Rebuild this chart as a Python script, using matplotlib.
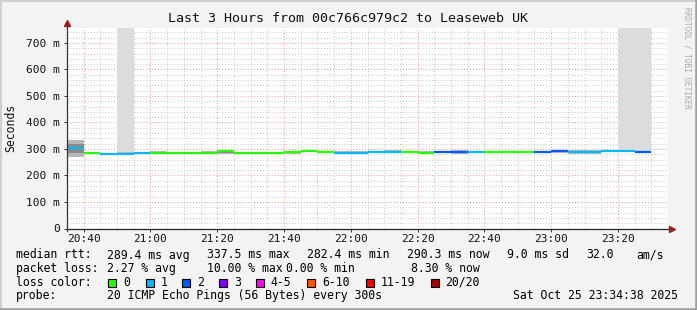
import numpy as np
import matplotlib
matplotlib.use('Agg')
import matplotlib.pyplot as plt
from matplotlib.patches import Rectangle
from matplotlib.lines import Line2D

plt.rcParams['font.family'] = 'DejaVu Sans Mono'

# 5 minute steps, minutes after 20:35
t_start = [0, 5, 10, 15, 20, 25, 30, 35, 40, 45, 50, 55, 60, 65, 70, 75, 80, 85,
           90, 95, 100, 105, 110, 115, 120, 125, 130, 135, 140, 145, 150, 155, 160, 165, 170]
median = [0.305, 0.285, 0.282, 0.282, 0.286, 0.286, 0.285, 0.285, 0.286, 0.291, 0.286, 0.286,
          0.286, 0.289, 0.292, 0.289, 0.286, 0.286, 0.290, 0.288, 0.290, 0.285, 0.289, 0.290,
          0.289, 0.289, 0.289, 0.289, 0.289, 0.291, 0.289, 0.289, 0.292, 0.292, 0.289]
loss_idx = [1, 0, 1, 1, 1, 0, 0, 0, 0, 0, 0, 0, 0, 0, 0, 0, 1, 1, 1, 1, 0, 0, 2, 2,
            1, 0, 0, 0, 2, 2, 1, 1, 1, 1, 2]
smoke_lo = [0.268, 0.283, 0.280, 0.280, 0.284, 0.284, 0.283, 0.283, 0.284, 0.280, 0.284, 0.284,
            0.284, 0.281, 0.287, 0.285, 0.284, 0.284, 0.286, 0.284, 0.286, 0.283, 0.284, 0.282,
            0.285, 0.284, 0.284, 0.284, 0.284, 0.285, 0.283, 0.283, 0.287, 0.287, 0.285]
smoke_hi = [0.335, 0.288, 0.286, 0.290, 0.288, 0.292, 0.290, 0.288, 0.293, 0.293, 0.289, 0.288,
            0.289, 0.291, 0.296, 0.292, 0.291, 0.292, 0.292, 0.295, 0.293, 0.292, 0.292, 0.295,
            0.294, 0.292, 0.292, 0.292, 0.293, 0.296, 0.295, 0.295, 0.295, 0.295, 0.293]
# intervals with lost pings drawn up to the top
lost_start = [15, 165, 170]

loss_colors = ['#26ff00', '#00b8ff', '#0059ff', '#7e00ff', '#ff00ff', '#ff5500', '#ff0000', '#a10000']
loss_labels = ['0', '1', '2', '3', '4-5', '6-10', '11-19', '20/20']

x_ticks = [5, 25, 45, 65, 85, 105, 125, 145, 165]
x_labels = ['20:40', '21:00', '21:20', '21:40', '22:00', '22:20', '22:40', '23:00', '23:20']
y_ticks = [0, 0.1, 0.2, 0.3, 0.4, 0.5, 0.6, 0.7]
y_labels = ['0', '100 m', '200 m', '300 m', '400 m', '500 m', '600 m', '700 m']
step = 5
ymax = 0.7566

W, H = 697, 310
fig = plt.figure(figsize=(W/100, H/100), dpi=100, facecolor='#f3f3f3')
ax = fig.add_axes([67/W, 1-228.5/H, 601/W, 200.5/H], facecolor='white')
ax.set_xlim(0, 180)
ax.set_ylim(0, ymax)

# grid
for xm in np.arange(0, 181, 5):
    if xm in x_ticks:
        continue
    ax.axvline(xm, color='#c8c8c8', lw=0.7, ls=(0, (1, 2)), zorder=1)
for ym in np.arange(0, ymax, 0.02):
    if np.isclose(ym % 0.1, 0) or np.isclose(ym % 0.1, 0.1):
        continue
    ax.axhline(ym, color='#c8c8c8', lw=0.7, ls=(0, (1, 2)), zorder=1)
for xm in x_ticks:
    ax.axvline(xm, color='#f09a9a', lw=0.7, ls=(0, (1, 2)), zorder=1)
for ym in y_ticks[1:]:
    ax.axhline(ym, color='#f09a9a', lw=0.7, ls=(0, (1, 2)), zorder=1)

# lost pings
for s in lost_start:
    i = t_start.index(s)
    ax.fill_between([s, s+step], smoke_hi[i], ymax, color='#dcdcdc', lw=0, zorder=2)

# smoke
for i in range(len(t_start)):
    ax.fill_between([t_start[i], t_start[i]+step], smoke_lo[i], smoke_hi[i], color='#b8b8b8', lw=0, zorder=3)
    mid_lo = (smoke_lo[i] + median[i]) / 2
    mid_hi = (smoke_hi[i] + median[i]) / 2
    ax.fill_between([t_start[i], t_start[i]+step], mid_lo, mid_hi, color='#8a8a8a', lw=0, zorder=3)

# median coloured by loss
for i in range(len(t_start)):
    ax.hlines(median[i], t_start[i], t_start[i]+step, color=loss_colors[loss_idx[i]], lw=1.6, zorder=4)

for sp in ax.spines.values():
    sp.set_visible(False)
ax.set_xticks(x_ticks, x_labels)
ax.set_yticks(y_ticks, y_labels)
ax.tick_params(axis='both', length=2, width=0.7, color='#333333', labelsize=8, labelcolor='#111111')
ax.tick_params(axis='y', pad=3)
ax.tick_params(axis='x', pad=2)

# axes with arrows
ax.plot([0, 0], [-0.012, 1.02], transform=ax.transAxes, clip_on=False, color='#333333', lw=0.9, zorder=5)
ax.plot([0, 1.004], [0, 0], transform=ax.transAxes, clip_on=False, color='#222222', lw=0.9, zorder=5)
ax.plot(0, 1.025, marker='^', ms=4, color='#9b1c1c', transform=ax.transAxes, clip_on=False, zorder=6)
ax.plot(1.006, 0, marker='>', ms=4, color='#9b1c1c', transform=ax.transAxes, clip_on=False, zorder=6)

def ftext(x, y, s, **kw):
    fig.text(x/W, 1-y/H, s, va='center', **kw)

ftext(348.5, 19, 'Last 3 Hours from 00c766c979c2 to Leaseweb UK', ha='center', fontsize=9.6, color='#111111')
ftext(11, 128, 'Seconds', ha='center', rotation=90, fontsize=8.3, color='#111111')
ftext(687, 58, 'RRDTOOL / TOBI OETIKER', ha='center', rotation=270, fontsize=5.6, color='#aaaaaa')

fs = 8.3
ftext(16, 255, 'median rtt:', fontsize=fs)
ftext(107, 255, '289.4 ms avg', fontsize=fs)
ftext(207, 255, '337.5 ms max', fontsize=fs)
ftext(307, 255, '282.4 ms min', fontsize=fs)
ftext(407, 255, '290.3 ms now', fontsize=fs)
ftext(507, 255, '9.0 ms sd', fontsize=fs)
ftext(586, 255, '32.0', fontsize=fs)
ftext(636, 255, 'am/s', fontsize=fs)

ftext(16, 268.5, 'packet loss:', fontsize=fs)
ftext(107, 268.5, '2.27 % avg', fontsize=fs)
ftext(207, 268.5, '10.00 % max', fontsize=fs)
ftext(286.5, 268.5, '0.00 % min', fontsize=fs)
ftext(411, 268.5, '8.30 % now', fontsize=fs)

ftext(16, 282.3, 'loss color:', fontsize=fs)
box_x = [108, 145.5, 182, 219, 255.5, 307, 365.5, 430.5]
for bx, c, lab in zip(box_x, loss_colors, loss_labels):
    fig.add_artist(Rectangle((bx/W, 1-286.5/H), 8/W, 8/H, transform=fig.transFigure,
                             facecolor=c, edgecolor='black', lw=0.8))
    ftext(bx+15, 282.3, lab, fontsize=fs)

ftext(16, 295.7, 'probe:', fontsize=fs)
ftext(107, 295.7, '20 ICMP Echo Pings (56 Bytes) every 300s', fontsize=fs)
ftext(513, 295.7, 'Sat Oct 25 23:34:38 2025', fontsize=fs)

# 3d frame
fig.add_artist(Line2D([0, 1], [1-0.5/H, 1-0.5/H], transform=fig.transFigure, color='#cfcfcf', lw=1.5))
fig.add_artist(Line2D([0.5/W, 0.5/W], [0, 1], transform=fig.transFigure, color='#cfcfcf', lw=1.5))
fig.add_artist(Line2D([0, 1], [1/H, 1/H], transform=fig.transFigure, color='#9e9e9e', lw=1.8))
fig.add_artist(Line2D([1-1/W, 1-1/W], [0, 1], transform=fig.transFigure, color='#9e9e9e', lw=1.8))

fig.savefig('out.png', dpi=100, facecolor=fig.get_facecolor())
